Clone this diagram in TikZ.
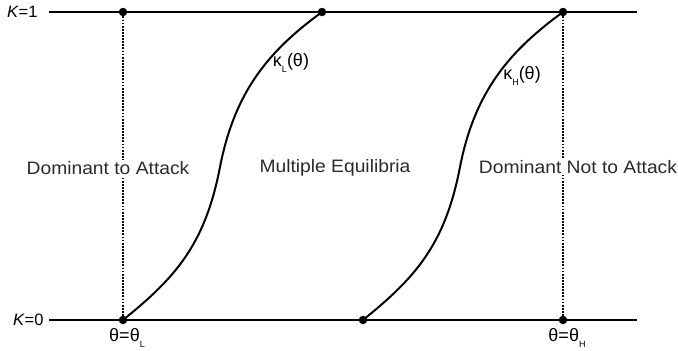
\documentclass[tikz,border=0pt]{standalone}
\usepackage{fontspec}
\setmainfont{Liberation Sans}
\newfontfamily\widesans[FakeStretch=1.07]{Liberation Sans}
\usetikzlibrary{positioning}
\definecolor{txt}{HTML}{2B2B2B}

\newcommand{\lo}[1]{\raisebox{-0.7ex}{\fontsize{9}{9}\selectfont #1}}

\begin{document}
\begin{tikzpicture}[
  x=1pt, y=-1pt,
  font=\fontsize{18}{21}\selectfont,
  axis/.style={line width=2pt},
  guide/.style={line width=2pt, dash pattern=on 1.8pt off 1.3pt},
  curve/.style={line width=2pt},
  dot/.style={circle, fill=black, inner sep=0pt, minimum size=8.5pt},
  region/.style={fill=white, inner sep=1pt, text=txt,
    font=\widesans\fontsize{18}{21}\selectfont},
  lab/.style={text=black},
  rail/.style={text=black, font=\fontsize{16.5}{19}\selectfont}
]
\useasboundingbox (0,0) rectangle (678,351);

% rails
\coordinate (t0) at (49,12);
\coordinate (t1) at (637,12);
\coordinate (b0) at (49,320);
\coordinate (b1) at (637,320);
\draw[axis] (t0) -- (t1);
\draw[axis] (b0) -- (b1);
\node[rail, left=8pt of t0] (k1) {\textit{K}=1};
\node[rail, left=2pt of b0] (k0) {\textit{K}=0};

% thresholds
\node[dot] (lt) at (123,12) {};
\node[dot] (lb) at (123,320) {};
\node[dot] (mt) at (322,12) {};
\node[dot] (mb) at (363,320) {};
\node[dot] (ht) at (563,12) {};
\node[dot] (hb) at (563,320) {};
\draw[guide] (lt) -- (lb);
\draw[guide] (ht) -- (hb);

% kappa curves
\coordinate (lm) at (220,167);
\coordinate (hm) at (460,167);
\draw[curve] (lb.center) .. controls +(52,-42) and +(-15,78) .. (lm)
  .. controls +(15,-77) and +(-52,38) .. (mt.center);
\draw[curve] (mb.center) .. controls +(52,-42) and +(-15,78) .. (hm)
  .. controls +(15,-77) and +(-52,38) .. (ht.center);
\node[lab] (kl) at (291,63) {κ\lo{L}(θ)};
\node[lab] (kh) at (522,76) {κ\lo{H}(θ)};

% regions
\node[region] (ra) at (108,168) {Dominant to Attack};
\node[region] (rm) at (335,168) {Multiple Equilibria};
\node[region] (rn) at (578,167) {Dominant Not to Attack};

\node[lab, below=0pt of lb, xshift=4pt] (thl) {θ=θ\lo{L}};
\node[lab, below=0pt of hb, xshift=4pt] (thh) {θ=θ\lo{H}};
\end{tikzpicture}
\end{document}
